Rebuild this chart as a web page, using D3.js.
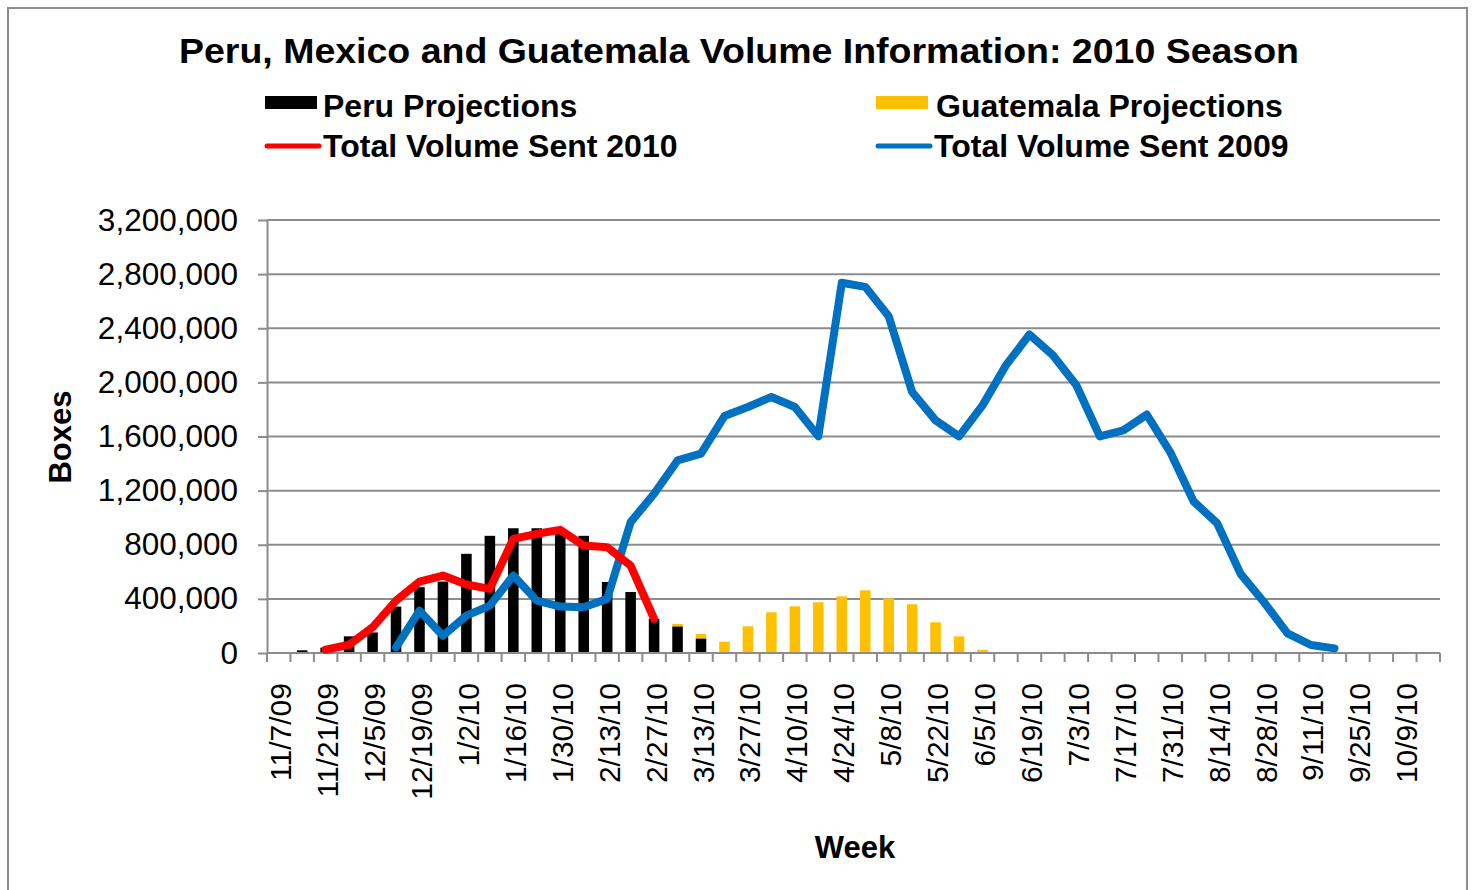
<!DOCTYPE html>
<html>
<head>
<meta charset="utf-8">
<script src="https://cdn.jsdelivr.net/npm/d3@7"></script>
<style>
  body { margin: 0; background: #ffffff; }
  svg text { font-family: "Liberation Sans", Arial, sans-serif; fill: #000; }
</style>
</head>
<body>
<div id="chart"></div>
<script>
//********************************************************//
//                        Datos                           //
//********************************************************//
var weeks = ["11/7/09", "11/14/09", "11/21/09", "11/28/09", "12/5/09", "12/12/09", "12/19/09", "12/26/09",
  "1/2/10", "1/9/10", "1/16/10", "1/23/10", "1/30/10", "2/6/10", "2/13/10", "2/20/10", "2/27/10", "3/6/10",
  "3/13/10", "3/20/10", "3/27/10", "4/3/10", "4/10/10", "4/17/10", "4/24/10", "5/1/10", "5/8/10", "5/15/10",
  "5/22/10", "5/29/10", "6/5/10", "6/12/10", "6/19/10", "6/26/10", "7/3/10", "7/10/10", "7/17/10", "7/24/10",
  "7/31/10", "8/7/10", "8/14/10", "8/21/10", "8/28/10", "9/4/10", "9/11/10", "9/18/10", "9/25/10", "10/2/10",
  "10/9/10", "10/16/10"];

var peru = [6000, 20000, 40000, 123000, 152000, 343000, 486000, 528000, 733000, 866000,
  922000, 922000, 915000, 866000, 525000, 451000, 252000, 197000, 108000, 0,
  0, 0, 0, 0, 0, 0, 0, 0, 0, 0,
  0, 0, 0, 0, 0, 0, 0, 0, 0, 0,
  0, 0, 0, 0, 0, 0, 0, 0, 0, 0];

var guatemala = [0, 0, 0, 0, 0, 0, 0, 0, 0, 0,
  0, 0, 0, 0, 0, 0, 0, 18000, 32000, 84000,
  197000, 301000, 345000, 375000, 419000, 463000, 404000, 360000, 227000, 123000,
  24000, 0, 0, 0, 0, 0, 0, 0, 0, 0,
  0, 0, 0, 0, 0, 0, 0, 0, 0, 0];

var sent2010 = [null, null, 24000, 61000, 190000, 387000, 528000, 572000, 506000, 474000,
  844000, 881000, 910000, 794000, 782000, 646000, 252000];

var sent2009 = [null, null, null, null, null, 41000, 313000, 128000, 276000, 350000,
  572000, 387000, 343000, 338000, 400000, 967000, 1177000, 1423000, 1473000, 1751000,
  1818000, 1892000, 1818000, 1601000, 2736000, 2706000, 2489000, 1929000, 1719000, 1601000,
  1830000, 2127000, 2354000, 2200000, 1979000, 1601000, 1645000, 1762000, 1485000, 1120000,
  959000, 585000, 375000, 145000, 59000, 34000];

var yTicks = [0, 400000, 800000, 1200000, 1600000, 2000000, 2400000, 2800000, 3200000];

var chart_width = 1474;
var chart_height = 890;
var margin = { top: 220, bottom: 237, left: 267, right: 34 };
var gridColor = "#8c8c8c";

var svg = d3.select("#chart")
  .append("svg")
  .attr("width", chart_width)
  .attr("height", chart_height);

// marco exterior
svg.append("rect")
  .attr("x", 8)
  .attr("y", 8)
  .attr("width", 1459)
  .attr("height", 900)
  .attr("fill", "white")
  .attr("stroke", "#8c8c8c")
  .attr("stroke-width", 2);

//********************************************************//
//                       Escalas                          //
//********************************************************//
var escalaX = d3.scaleBand()
  .domain(d3.range(weeks.length))
  .range([margin.left, chart_width - margin.right])
  .paddingInner(0.55)
  .paddingOuter(0.275);

var escalaY = d3.scaleLinear()
  .domain([0, 3200000])
  .range([chart_height - margin.bottom, margin.top]);

function centro(i) { return escalaX(i) + escalaX.bandwidth() / 2; }

// lineas de cuadricula
svg.append("g")
  .selectAll("line")
  .data(yTicks.slice(1))
  .enter()
  .append("line")
  .attr("x1", margin.left)
  .attr("x2", chart_width - margin.right)
  .attr("y1", function (d) { return escalaY(d); })
  .attr("y2", function (d) { return escalaY(d); })
  .attr("stroke", gridColor)
  .attr("stroke-width", 2);

//********************************************************//
//                   Barras apiladas                      //
//********************************************************//
var barras = svg.append("g");

barras.selectAll(".peru")
  .data(peru)
  .enter()
  .append("rect")
  .attr("class", "peru")
  .attr("x", function (d, i) { return escalaX(i); })
  .attr("width", escalaX.bandwidth())
  .attr("y", function (d) { return escalaY(d); })
  .attr("height", function (d) { return escalaY(0) - escalaY(d); })
  .attr("fill", "#000000");

barras.selectAll(".guate")
  .data(guatemala)
  .enter()
  .append("rect")
  .attr("class", "guate")
  .attr("x", function (d, i) { return escalaX(i); })
  .attr("width", escalaX.bandwidth())
  .attr("y", function (d, i) { return escalaY(peru[i] + d); })
  .attr("height", function (d, i) { return escalaY(peru[i]) - escalaY(peru[i] + d); })
  .attr("fill", "#FFC000");

//********************************************************//
//                        Ejes                            //
//********************************************************//
var ejeY = d3.axisLeft(escalaY)
  .tickValues(yTicks)
  .tickSize(9)
  .tickSizeOuter(0)
  .tickPadding(20)
  .tickFormat(d3.format(","));

var gY = svg.append("g")
  .attr("transform", "translate(" + margin.left + ",0)")
  .call(ejeY);
gY.select(".domain").attr("stroke", gridColor).attr("stroke-width", 2);
gY.selectAll(".tick line").attr("stroke", gridColor).attr("stroke-width", 2);
gY.selectAll(".tick text")
  .style("font-size", "31.5px")
  .attr("fill", "#000");

// eje X: linea base y marcas en los limites de cada semana
var base = escalaY(0);
svg.append("line")
  .attr("x1", margin.left)
  .attr("x2", chart_width - margin.right)
  .attr("y1", base)
  .attr("y2", base)
  .attr("stroke", gridColor)
  .attr("stroke-width", 2);

var paso = escalaX.step();
svg.append("g")
  .selectAll("line")
  .data(d3.range(weeks.length + 1))
  .enter()
  .append("line")
  .attr("x1", function (d) { return margin.left + d * paso; })
  .attr("x2", function (d) { return margin.left + d * paso; })
  .attr("y1", base)
  .attr("y2", base + 9)
  .attr("stroke", gridColor)
  .attr("stroke-width", 2);

// etiquetas cada dos semanas
svg.append("g")
  .selectAll("text")
  .data(weeks.filter(function (d, i) { return i % 2 === 0; }))
  .enter()
  .append("text")
  .attr("transform", function (d) {
    return "translate(" + (centro(weeks.indexOf(d)) + 2) + "," + (base + 30) + ") rotate(-90)";
  })
  .attr("text-anchor", "end")
  .attr("dy", "0.35em")
  .style("font-size", "30px")
  .text(function (d) { return d; });

//********************************************************//
//                        Lineas                          //
//********************************************************//
var linea = d3.line()
  .defined(function (d) { return d != null; })
  .x(function (d, i) { return centro(i); })
  .y(function (d) { return escalaY(d); });

svg.append("path")
  .datum(sent2009)
  .attr("fill", "none")
  .attr("stroke", "#0070C0")
  .attr("stroke-width", 8)
  .attr("stroke-linejoin", "round")
  .attr("stroke-linecap", "round")
  .attr("d", linea);

svg.append("path")
  .datum(sent2010)
  .attr("fill", "none")
  .attr("stroke", "#FF0000")
  .attr("stroke-width", 8)
  .attr("stroke-linejoin", "round")
  .attr("stroke-linecap", "round")
  .attr("d", linea);

//********************************************************//
//                  Titulos y leyenda                     //
//********************************************************//
svg.append("text")
  .attr("x", 739)
  .attr("y", 63)
  .attr("text-anchor", "middle")
  .attr("textLength", 1120)
  .attr("lengthAdjust", "spacingAndGlyphs")
  .style("font-size", "35px")
  .style("font-weight", "bold")
  .text("Peru, Mexico and Guatemala Volume Information: 2010 Season");

svg.append("text")
  .attr("transform", "translate(71,437) rotate(-90)")
  .attr("text-anchor", "middle")
  .style("font-size", "31px")
  .style("font-weight", "bold")
  .text("Boxes");

svg.append("text")
  .attr("x", 855)
  .attr("y", 858)
  .attr("text-anchor", "middle")
  .style("font-size", "31px")
  .style("font-weight", "bold")
  .text("Week");

var leyenda = [
  { nombre: "Peru Projections", tipo: "rect", color: "#000000", x: 265, y: 106 },
  { nombre: "Total Volume Sent 2010", tipo: "line", color: "#FF0000", x: 265, y: 146 },
  { nombre: "Guatemala Projections", tipo: "rect", color: "#FFC000", x: 876, y: 106 },
  { nombre: "Total Volume Sent 2009", tipo: "line", color: "#0070C0", x: 876, y: 146 }
];

var items = svg.append("g")
  .selectAll("g")
  .data(leyenda)
  .enter()
  .append("g")
  .attr("transform", function (d) { return "translate(" + d.x + "," + d.y + ")"; });

items.filter(function (d) { return d.tipo === "rect"; })
  .append("rect")
  .attr("x", 0)
  .attr("y", -10)
  .attr("width", 52)
  .attr("height", 13)
  .attr("fill", function (d) { return d.color; });

items.filter(function (d) { return d.tipo === "line"; })
  .append("line")
  .attr("x1", 2)
  .attr("x2", 54)
  .attr("y1", 0)
  .attr("y2", 0)
  .attr("stroke", function (d) { return d.color; })
  .attr("stroke-width", 5)
  .attr("stroke-linecap", "round");

items.append("text")
  .attr("x", function (d) { return d.tipo === "rect" && d.x > 800 ? 60 : 58; })
  .attr("y", 0)
  .attr("dy", "0.35em")
  .style("font-size", "32px")
  .style("font-weight", "bold")
  .text(function (d) { return d.nombre; });
</script>
</body>
</html>
